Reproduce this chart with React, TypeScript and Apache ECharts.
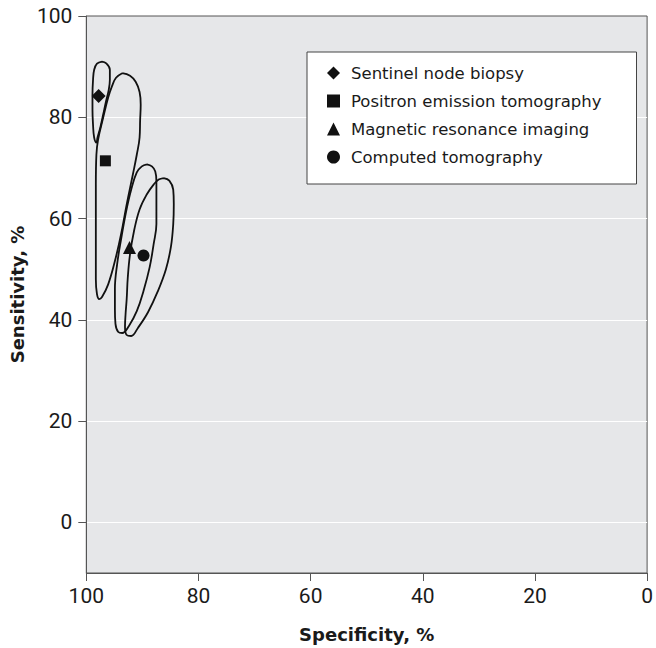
import React, { useEffect, useRef } from "react";
import * as echarts from "echarts";

// ---- data ----
const seriesNames = [
  "Sentinel node biopsy",
  "Positron emission tomography",
  "Magnetic resonance imaging",
  "Computed tomography",
];
const seriesSymbols = ["diamond", "rect", "triangle", "circle"];
const symbolSizes = [14, 11, 13, 12];

// summary points [specificity, sensitivity]
const pointSnb = [97.8, 84.2];
const pointPet = [96.6, 71.4];
const pointMri = [92.3, 54.3];
const pointCt = [89.8, 52.7];

// confidence contours [specificity, sensitivity]
const contourSnb = [
  [97.2, 91.0], [96.5, 90.7], [95.8, 89.4], [95.8, 87.4], [96.0, 85.4], [96.5, 83.1],
  [97.0, 80.5], [97.5, 78.0], [98.0, 76.0], [98.2, 75.0], [98.6, 76.0], [98.8, 78.5],
  [98.9, 81.5], [98.9, 84.4], [98.8, 87.4], [98.6, 89.4], [98.1, 90.6], [97.2, 91.0],
];
const contourPet = [
  [93.6, 88.7], [92.2, 88.2], [91.2, 87.0], [90.5, 85.0], [90.3, 82.5], [90.4, 79.5],
  [90.5, 76.0], [91.0, 72.6], [91.7, 68.7], [92.8, 62.8], [93.8, 56.9], [94.9, 51.6],
  [96.1, 47.0], [97.2, 44.5], [97.7, 44.1], [98.1, 45.1], [98.3, 48.0], [98.3, 53.9],
  [98.3, 59.8], [98.3, 66.7], [98.2, 72.6], [97.9, 75.6], [97.0, 79.9], [96.1, 83.9],
  [95.4, 86.2], [94.7, 87.8], [93.6, 88.7],
];
const contourMri = [
  [89.2, 70.7], [88.3, 70.3], [87.7, 69.3], [87.5, 67.3], [87.5, 63.8], [87.5, 58.9],
  [88.0, 54.9], [88.7, 50.4], [89.8, 45.7], [91.0, 41.7], [92.4, 38.8], [93.6, 37.4],
  [94.3, 37.6], [94.8, 39.2], [94.9, 42.1], [94.9, 46.1], [94.5, 51.0], [93.8, 55.9],
  [92.9, 61.4], [92.0, 65.7], [91.0, 69.1], [90.1, 70.3], [89.2, 70.7],
];
const contourCt = [
  [86.2, 68.0], [85.2, 67.5], [84.5, 65.7], [84.4, 62.8], [84.5, 58.9], [84.9, 54.5],
  [85.8, 50.0], [87.3, 45.5], [89.0, 41.5], [90.8, 38.4], [92.0, 36.8], [92.8, 37.0],
  [93.1, 38.6], [93.0, 41.1], [92.8, 44.1], [92.6, 48.4], [92.2, 53.0], [91.5, 57.5],
  [90.5, 61.8], [89.2, 64.8], [88.0, 66.7], [87.1, 67.7], [86.2, 68.0],
];

const points = [pointSnb, pointPet, pointMri, pointCt];
const contours = [contourSnb, contourPet, contourMri, contourCt];

export default function App() {
  const ref = useRef<HTMLDivElement>(null);

  useEffect(() => {
    if (!ref.current) return;
    const chart = echarts.init(ref.current, undefined, { renderer: "svg" });

    const tickLabel = { fontFamily: "Roboto", fontSize: 21, color: "#1a1a1a" };
    const axisTitle = {
      fontFamily: "DejaVu Sans",
      fontWeight: "bold" as const,
      fontSize: 18,
      color: "#1a1a1a",
    };

    const lineSeries = contours.map((c) => ({
      type: "line",
      data: c,
      smooth: 0.4,
      showSymbol: false,
      symbol: "none",
      silent: true,
      lineStyle: { color: "#111", width: 1.8 },
      z: 2,
    }));

    const scatterSeries = seriesNames.map((name, i) => ({
      type: "scatter",
      name,
      data: [points[i]],
      symbol: seriesSymbols[i],
      symbolSize: symbolSizes[i],
      itemStyle: { color: "#111", opacity: 1 },
      z: 3,
    }));

    chart.setOption({
      animation: false,
      backgroundColor: "#ffffff",
      grid: {
        left: 86,
        top: 16,
        right: 4,
        bottom: 73,
        show: true,
        backgroundColor: "#e6e7e9",
        borderColor: "#555",
        borderWidth: 1,
      },
      legend: {
        data: seriesNames,
        orient: "vertical",
        left: 307,
        top: 52,
        itemWidth: 13,
        itemHeight: 13,
        itemGap: 8,
        padding: [11, 35, 17, 20],
        backgroundColor: "#ffffff",
        borderColor: "#444",
        borderWidth: 1,
        borderRadius: 0,
        selectedMode: false,
        itemStyle: { opacity: 1 },
        textStyle: {
          fontFamily: "DejaVu Sans",
          fontSize: 16.5,
          lineHeight: 20,
          color: "#1a1a1a",
          padding: [0, 0, 0, 6],
        },
      },
      xAxis: {
        type: "value",
        min: 0,
        max: 100,
        interval: 20,
        inverse: true,
        name: "Specificity, %",
        nameLocation: "middle",
        nameGap: 52,
        nameTextStyle: axisTitle,
        axisLine: { show: true, onZero: false, lineStyle: { color: "#555", width: 1 } },
        axisTick: { show: true, inside: false, length: 8, lineStyle: { color: "#555" } },
        axisLabel: { ...tickLabel, margin: 12 },
        splitLine: { show: false },
      },
      yAxis: {
        type: "value",
        min: -10,
        max: 100,
        splitNumber: 5,
        name: "Sensitivity, %",
        nameLocation: "middle",
        nameGap: 55,
        nameTextStyle: axisTitle,
        axisLine: { show: true, onZero: false, lineStyle: { color: "#555", width: 1 } },
        axisTick: { show: true, inside: false, length: 8, lineStyle: { color: "#555" } },
        axisLabel: { ...tickLabel, margin: 14, showMinLabel: false },
        splitLine: {
          show: true,
          showMinLine: false,
          showMaxLine: false,
          lineStyle: { color: "#ffffff", width: 1 },
        },
      },
      series: [...lineSeries, ...scatterSeries],
    });

    return () => chart.dispose();
  }, []);

  return (
    <div
      ref={ref}
      style={{ position: "fixed", left: 0, top: 0, width: 656, height: 648 }}
    />
  );
}
